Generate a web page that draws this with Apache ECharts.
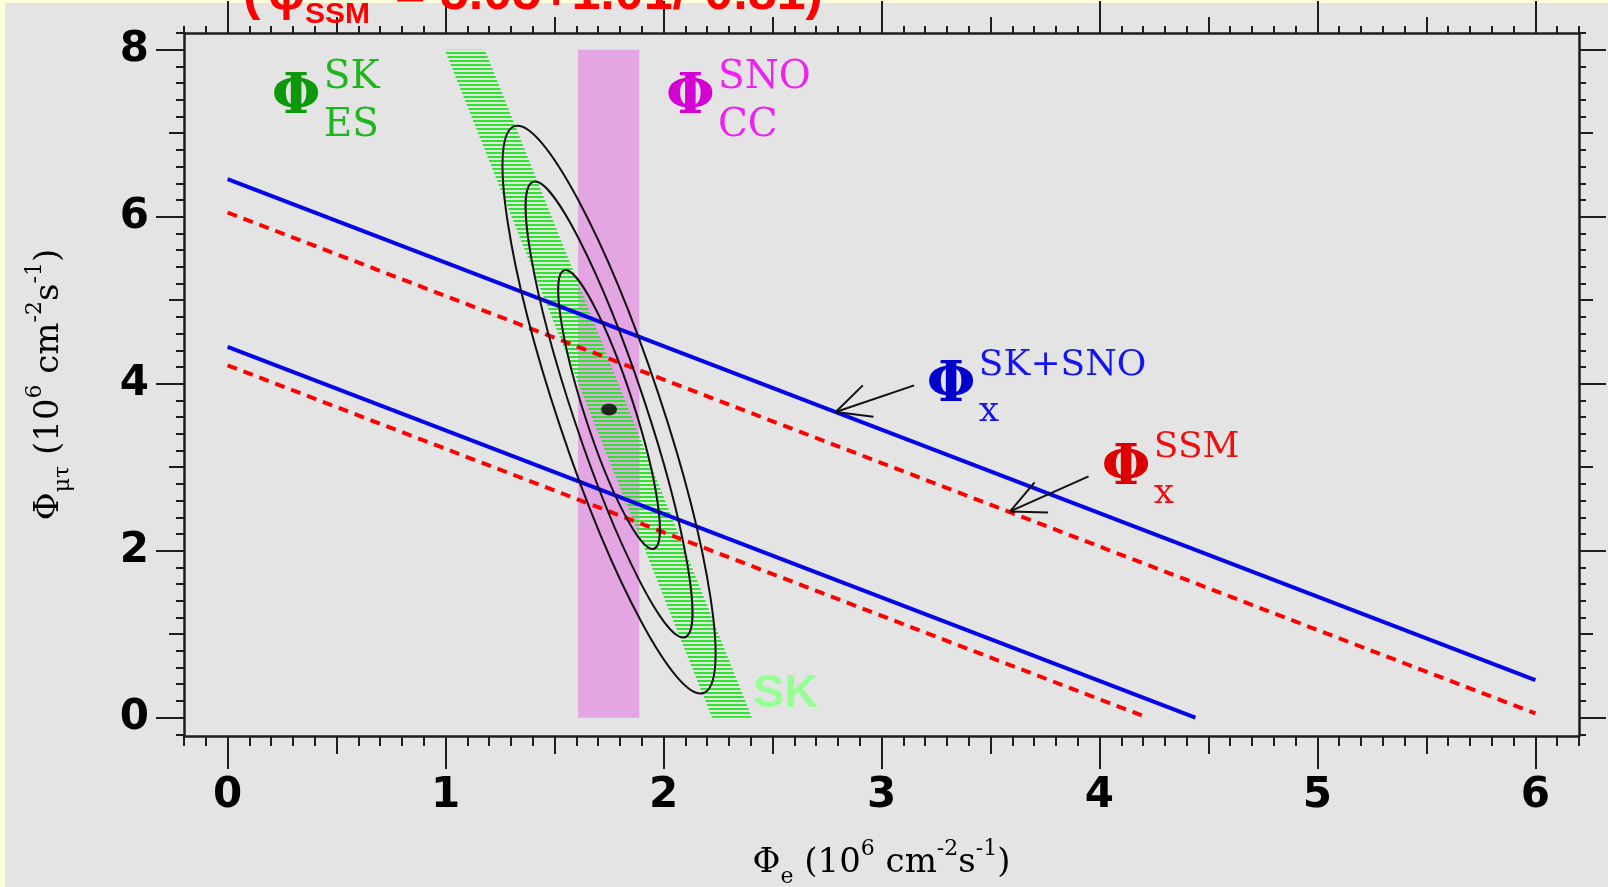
<!DOCTYPE html>
<html><head><meta charset="utf-8">
<script src="https://cdn.jsdelivr.net/npm/echarts@6/dist/echarts.min.js"></script>
<style>
html,body{margin:0;padding:0;background:#ffffdc;overflow:hidden;}
#bg{position:absolute;left:5px;top:3px;width:1603px;height:884px;background:#e4e4e4;}
#chart{position:absolute;left:0;top:0;width:1608px;height:887px;}
</style></head><body><div id="bg"></div><div id="chart"></div>
<script>
// ---------------- data ----------------
const xTickLabels = [0, 1, 2, 3, 4, 5, 6];
const yTickLabels = [0, 2, 4, 6, 8];
const xMidTicks = [0.5, 1.5, 2.5, 3.5, 4.5, 5.5];
const yMidTicks = [1, 3, 5, 7];
const skBand = [[0.996, 8], [1.18, 8], [2.406, 0], [2.223, 0]];      // SK ES band corners
const snoBand = [1.608, 0, 1.889, 8];                                // SNO CC band x0,y0,x1,y1
const bestFit = [[1.75, 3.69]];
const contourCenter = [1.75, 3.69];
const contourTop = [[1.33, 7.09], [1.41, 6.42], [1.55, 5.36]];
const contourHalfWidth = [0.25, 0.175, 0.12];
const skSnoUpper = [[0, 6.45], [6, 0.45]];
const skSnoLower = [[0, 4.44], [4.44, 0]];
const ssmUpper = [[0, 6.05], [6, 0.05]];
const ssmLower = [[0, 4.22], [4.22, 0]];
const arrows = [[3.15, 3.98, 2.79, 3.66], [3.95, 2.89, 3.59, 2.47]];
const labelAnchors = [[0.203, 7.415], [2.011, 7.415], [3.208, 3.97], [4.011, 2.977]];
const labelSup = ['SK', 'SNO', 'SK+SNO', 'SSM'];
const labelSub = ['ES', 'CC', 'x', 'x'];
const skTextAnchor = [[2.41, 0.28]];

// ---------------- helpers ----------------
function steps(a, b, s) { const r = []; for (let i = Math.round(a / s); i <= Math.round(b / s); i++) r.push(+(i * s).toFixed(3)); return r; }
const xMinorTicks = steps(-0.2, 6.2, 0.1);
const yMinorTicks = steps(-0.2, 8.2, 0.2);
const X_MIN = -0.2, X_MAX = 6.2, Y_MIN = -0.22, Y_MAX = 8.2;
const tickCol = '#1e1e1e';

function xAx(pos, ticks, len, extra) {
  return Object.assign({
    type: 'value', position: pos, min: X_MIN, max: X_MAX,
    splitLine: { show: false },
    axisLine: { show: false, onZero: false },
    axisTick: { show: true, customValues: ticks, length: len, lineStyle: { color: tickCol, width: 2 } },
    axisLabel: { show: false }
  }, extra || {});
}
function yAx(pos, ticks, len, extra) {
  return Object.assign({
    type: 'value', position: pos, min: Y_MIN, max: Y_MAX,
    splitLine: { show: false },
    axisLine: { show: false, onZero: false },
    axisTick: { show: true, customValues: ticks, length: len, lineStyle: { color: tickCol, width: 2 } },
    axisLabel: { show: false }
  }, extra || {});
}
const frameLine = { show: true, onZero: false, lineStyle: { color: tickCol, width: 2.5 } };
const richName = {
  m: { fontSize: 34, fontFamily: 'DejaVu Serif', color: '#000', lineHeight: 50 },
  sup: { fontSize: 22, fontFamily: 'DejaVu Serif', color: '#000', verticalAlign: 'top', lineHeight: 24 },
  sub: { fontSize: 22, fontFamily: 'DejaVu Serif', color: '#000', verticalAlign: 'bottom', lineHeight: 24 }
};
const tickLabelStyle = { fontSize: 42, fontFamily: 'DejaVu Sans', fontWeight: 'bold', color: '#000' };

// hatch pattern for the SK band
const pc = document.createElement('canvas'); pc.width = 4; pc.height = 4;
const pg = pc.getContext('2d'); pg.fillStyle = '#2ee52e'; pg.fillRect(0, 0, 4, 2);

const labelColors = [
  { main: '#0b990b', sub: '#1fb51f' },
  { main: '#d400d4', sub: '#ee22ee' },
  { main: '#0000cc', sub: '#1414ee' },
  { main: '#dd0000', sub: '#ee1010' }
];

const chart = echarts.init(document.getElementById('chart'), null, { renderer: 'canvas' });
chart.setOption({
  animation: false,
  backgroundColor: 'transparent',
  grid: { left: 184, right: 29, top: 33, bottom: 151, outerBoundsMode: 'none', containLabel: false },
  xAxis: [
    xAx('bottom', xTickLabels, 33, {
      axisLine: frameLine,
      axisLabel: Object.assign({ show: true, customValues: xTickLabels, margin: 39 }, tickLabelStyle),
      name: '{m|Φ}{sub|e}{m| (10}{sup|6}{m| cm}{sup|-2}{m|s}{sup|-1}{m|)}',
      nameLocation: 'middle', nameGap: 102, nameMoveOverlap: false,
      nameTextStyle: { rich: richName }
    }),
    xAx('bottom', xMidTicks, 18),
    xAx('bottom', xMinorTicks, 10),
    xAx('top', xTickLabels, 32, { axisLine: frameLine }),
    xAx('top', xMidTicks, 16),
    xAx('top', xMinorTicks, 7)
  ],
  yAxis: [
    yAx('left', yTickLabels, 28, {
      axisLine: frameLine,
      axisLabel: Object.assign({ show: true, customValues: yTickLabels, margin: 35 }, tickLabelStyle),
      name: '{m|Φ}{sub|μτ}{m| (10}{sup|6}{m| cm}{sup|-2}{m|s}{sup|-1}{m|)}',
      nameLocation: 'middle', nameGap: 110, nameRotate: 90, nameMoveOverlap: false,
      nameTextStyle: { rich: richName }
    }),
    yAx('left', yMidTicks, 15),
    yAx('left', yMinorTicks, 8),
    yAx('right', yTickLabels, 27, { axisLine: frameLine }),
    yAx('right', yMidTicks, 14),
    yAx('right', yMinorTicks, 7)
  ],
  graphic: [
    { type: 'text', x: 243, y: -5, z: 100, style: { text: '(', font: 'bold 52px "Liberation Sans"', fill: '#ff0000', verticalAlign: 'middle' } },
    { type: 'text', x: 268, y: -5, z: 100, style: { text: 'φ', font: 'bold 52px "Liberation Sans"', fill: '#ff0000', verticalAlign: 'middle' } },
    { type: 'text', x: 305, y: 15, z: 100, style: { text: 'SSM', font: 'bold 30px "Liberation Sans"', fill: '#ff0000', verticalAlign: 'middle' } },
    { type: 'text', x: 395, y: -5, z: 100, style: { text: '= 5.05+1.01/-0.81)', font: 'bold 52px "Liberation Sans"', fill: '#ff0000', verticalAlign: 'middle' } }
  ],
  series: [
    { // SNO CC band
      type: 'custom', z: 1, silent: true, data: [snoBand],
      renderItem: function (p, api) {
        const a = api.coord([api.value(0), api.value(1)]);
        const b = api.coord([api.value(2), api.value(3)]);
        return { type: 'rect', shape: { x: a[0], y: b[1], width: b[0] - a[0], height: a[1] - b[1] }, style: { fill: '#e3a6e3' } };
      }
    },
    { // SK ES hatched band
      type: 'custom', z: 2, silent: true, data: skBand,
      renderItem: function (p, api) {
        if (p.dataIndex !== 0) return null;
        const pts = skBand.map(function (d) { return api.coord(d); });
        return { type: 'polygon', shape: { points: pts }, style: { fill: { image: pc, repeat: 'repeat' } } };
      }
    },
    { type: 'line', z: 3, data: skSnoUpper, showSymbol: false, symbol: 'none', lineStyle: { color: '#0505e8', width: 4 } },
    { type: 'line', z: 3, data: skSnoLower, showSymbol: false, symbol: 'none', lineStyle: { color: '#0505e8', width: 4 } },
    { type: 'line', z: 3, data: ssmUpper, showSymbol: false, symbol: 'none', lineStyle: { color: '#ff0000', width: 4, type: [10, 7] } },
    { type: 'line', z: 3, data: ssmLower, showSymbol: false, symbol: 'none', lineStyle: { color: '#ff0000', width: 4, type: [10, 7] } },
    { // confidence contours
      type: 'custom', z: 4, silent: true,
      data: contourTop.map(function (t, i) { return [contourCenter[0], contourCenter[1], t[0], t[1], contourHalfWidth[i]]; }),
      renderItem: function (p, api) {
        const c = api.coord([api.value(0), api.value(1)]);
        const t = api.coord([api.value(2), api.value(3)]);
        const w = api.size([api.value(4), 0])[0];
        const ux = t[0] - c[0], uy = t[1] - c[1];
        const s11 = ux * ux + w * w, s22 = uy * uy, s12 = ux * uy;
        const th = 0.5 * Math.atan2(2 * s12, s11 - s22);
        const m = (s11 + s22) / 2, d = Math.sqrt(Math.pow((s11 - s22) / 2, 2) + s12 * s12);
        return { type: 'ellipse', x: c[0], y: c[1], rotation: -th,
          shape: { cx: 0, cy: 0, rx: Math.sqrt(m + d), ry: Math.sqrt(Math.max(m - d, 0)) },
          style: { fill: null, stroke: '#111', lineWidth: 2 } };
      }
    },
    { // arrows
      type: 'custom', z: 4, silent: true, data: arrows,
      renderItem: function (p, api) {
        const a = api.coord([api.value(0), api.value(1)]);
        const b = api.coord([api.value(2), api.value(3)]);
        const ang = Math.atan2(a[1] - b[1], a[0] - b[0]);
        const L = 38, s = 0.45;
        const st = { stroke: '#111', lineWidth: 2 };
        return { type: 'group', children: [
          { type: 'line', shape: { x1: a[0], y1: a[1], x2: b[0], y2: b[1] }, style: st },
          { type: 'line', shape: { x1: b[0], y1: b[1], x2: b[0] + L * Math.cos(ang + s), y2: b[1] + L * Math.sin(ang + s) }, style: st },
          { type: 'line', shape: { x1: b[0], y1: b[1], x2: b[0] + L * Math.cos(ang - s), y2: b[1] + L * Math.sin(ang - s) }, style: st }
        ] };
      }
    },
    { type: 'scatter', z: 5, data: bestFit, symbol: 'circle', symbolSize: [16, 12], itemStyle: { color: '#000' }, silent: true },
    { // flux labels
      type: 'custom', z: 6, silent: true,
      data: labelAnchors.map(function (a, i) { return [a[0], a[1], i]; }),
      renderItem: function (p, api) {
        const c = api.coord([api.value(0), api.value(1)]);
        const i = api.value(2);
        const col = labelColors[i];
        const big = i < 2;
        return { type: 'group', children: [
          { type: 'text', x: c[0], y: c[1], style: { text: 'Φ', fill: col.main, font: 'bold 56px "DejaVu Serif"', align: 'left', verticalAlign: 'middle' } },
          { type: 'text', x: c[0] + 52, y: c[1] - 21, style: { text: labelSup[i], fill: col.sub, font: (big ? 39 : 36) + 'px "DejaVu Serif"', align: 'left', verticalAlign: 'middle' } },
          { type: 'text', x: c[0] + 52, y: c[1] + (big ? 27 : 25), style: { text: labelSub[i], fill: col.sub, font: (big ? 39 : 36) + 'px "DejaVu Serif"', align: 'left', verticalAlign: 'middle' } }
        ] };
      }
    },
    { // SK label
      type: 'custom', z: 6, silent: true, data: skTextAnchor,
      renderItem: function (p, api) {
        const c = api.coord([api.value(0), api.value(1)]);
        return { type: 'text', x: c[0], y: c[1], style: { text: 'SK', fill: '#96ff96', font: 'bold 47px "Liberation Sans"', align: 'left', verticalAlign: 'middle' } };
      }
    }
  ]
});
</script></body></html>
